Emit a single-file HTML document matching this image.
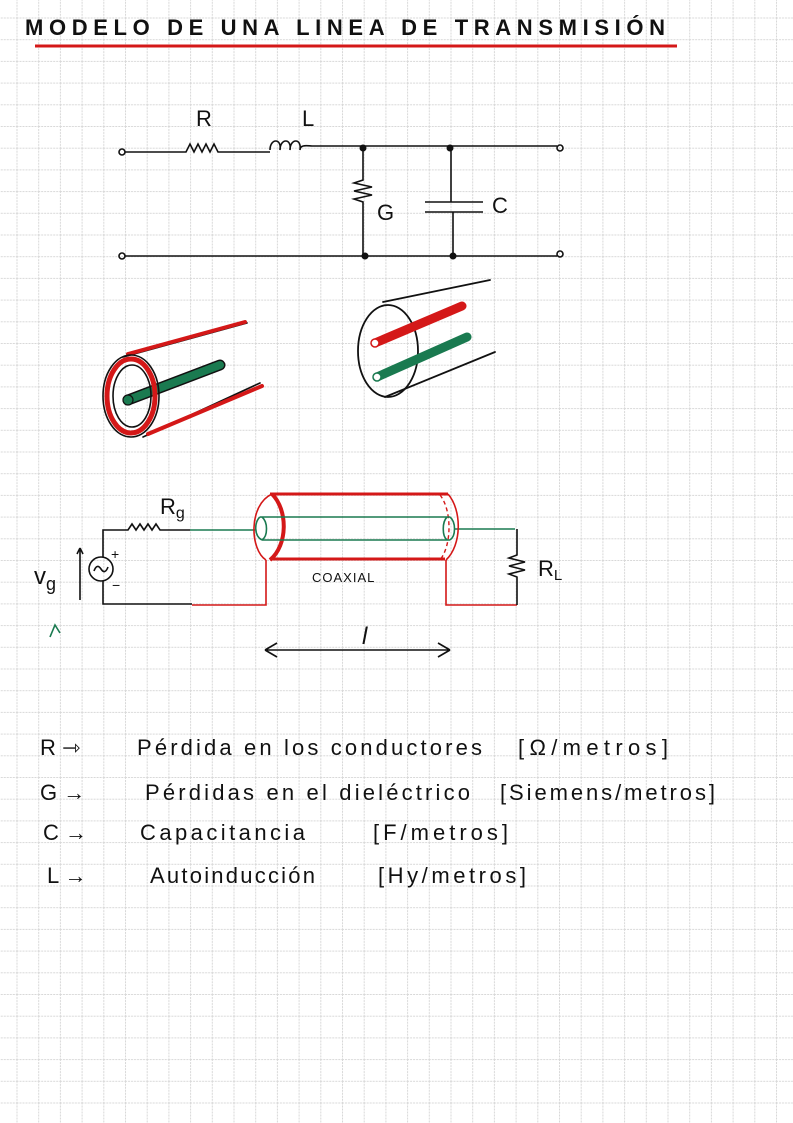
<!DOCTYPE html>
<html><head><meta charset="utf-8"><style>html,body{margin:0;padding:0;background:#fff}svg{display:block}</style></head><body>
<svg width="793" height="1123" viewBox="0 0 793 1123" xmlns="http://www.w3.org/2000/svg" font-family="Liberation Sans, sans-serif">
<defs>
<pattern id="g" x="16.5" y="17.5" width="21.7" height="21.7" patternUnits="userSpaceOnUse">
<path d="M0 0.5H21.7M0.5 0V21.7" stroke="#d8d8d8" stroke-width="1" stroke-dasharray="2 1" fill="none"/>
</pattern>
</defs>
<rect width="793" height="1123" fill="#fff"/>
<rect width="793" height="1123" fill="url(#g)"/>

<text x="25" y="35" font-size="22" font-weight="bold" fill="#111" textLength="640" lengthAdjust="spacing">MODELO DE UNA LINEA DE TRANSMISIÓN</text>
<line x1="35" y1="46" x2="677" y2="46" stroke="#d41818" stroke-width="3"/>

<g fill="none" stroke="#111" stroke-width="1.6">
<circle cx="122" cy="152" r="3"/><circle cx="560" cy="148" r="3"/>
<circle cx="122" cy="256" r="3"/><circle cx="560" cy="254" r="3"/>
<path d="M125 152H186 l4 -8 4 8 4 -8 4 8 4 -8 4 8 4 -8 4 8 H270"/>
<path d="M270 150 c0 -12 12 -12 10 0 c0 -12 12 -12 10 0 c0 -12 12 -12 10 0 c0 -6 8 -4 12 -4 H557"/>
<path d="M125 256H557"/>
<path d="M363 148V180 l-9 3 18 4 -18 4 18 4 -18 4 9 3 V256"/>
<path d="M451 148V202 M425 202H483 M425 212H483 M453 212V256"/>
</g>
<g fill="#111"><circle cx="363" cy="148" r="3.5"/><circle cx="450" cy="148" r="3.5"/><circle cx="365" cy="256" r="3.5"/><circle cx="453" cy="256" r="3.5"/></g>
<g font-size="22" fill="#111">
<text x="196" y="126">R</text><text x="302" y="126">L</text>
<text x="377" y="220">G</text><text x="492" y="213">C</text>
</g>

<g fill="none" stroke-linecap="round">
<path d="M123 357 L247 323 M143 437 L260 383" stroke="#111" stroke-width="1.6"/>
<path d="M128 354 L245 322 M148 434 L262 386" stroke="#d41818" stroke-width="4"/>
<path d="M128 400 L220 365" stroke="#111" stroke-width="11"/>
<path d="M128 400 L220 365" stroke="#1a7a50" stroke-width="8"/>
<circle cx="128" cy="400" r="5" fill="#1a7a50" stroke="#111" stroke-width="1.2"/>
<ellipse cx="131" cy="396" rx="28" ry="41" stroke="#111" stroke-width="1.6"/>
<ellipse cx="131" cy="396" rx="24" ry="37" stroke="#d41818" stroke-width="5"/>
<ellipse cx="132" cy="396" rx="19" ry="31" stroke="#111" stroke-width="1.6"/>
</g>
<g fill="none" stroke-linecap="round">
<ellipse cx="388" cy="351" rx="30" ry="46" stroke="#111" stroke-width="1.8"/>
<path d="M383 302 L490 280 M385 397 L495 352" stroke="#111" stroke-width="1.8"/>
<path d="M375 343 L462 306" stroke="#d41818" stroke-width="9"/>
<path d="M377 377 L467 337" stroke="#1a7a50" stroke-width="9"/>
<circle cx="375" cy="343" r="4" fill="#fff" stroke="#d41818" stroke-width="1.5"/>
<circle cx="377" cy="377" r="4" fill="#fff" stroke="#1a7a50" stroke-width="1.5"/>
</g>

<g fill="none" stroke-width="1.6">
<path d="M103 557 V530 H128 l4 -6 4 6 4 -6 4 6 4 -6 4 6 4 -6 4 6 H190" stroke="#111"/>
<circle cx="101" cy="569" r="12" stroke="#111"/>
<path d="M94 571 q3 -8 7 -2 q4 6 7 -2" stroke="#111"/>
<path d="M103 581 V604 H192" stroke="#111"/>
<path d="M192 605 H266 V560 M446 560 V605 H517" stroke="#d41818"/>
<path d="M190 530 H255 M455 529 H515" stroke="#1a7a50"/>
<path d="M517 529 V555 l-8 3 16 4 -16 4 16 4 -16 4 8 3 V605" stroke="#111"/>
<path d="M80 548 V600 M80 548 l-3 6 M80 548 l3 6" stroke="#111"/>
<path d="M270 494 H448 M270 559 H445" stroke="#d41818" stroke-width="3"/>
<path d="M272 494 C248 505 250 550 266 560 M448 494 C462 510 462 545 446 560" stroke="#d41818" stroke-width="1.6"/>
<path d="M272 494 C288 510 288 545 270 560" stroke="#d41818" stroke-width="4"/>
<path d="M440 495 C452 510 452 545 440 560" stroke="#d41818" stroke-width="1.4" stroke-dasharray="4 3"/>
<path d="M260 517 H450 M262 540 H450" stroke="#1a7a50"/>
<path d="M260 517 C254 522 254 536 262 540 M262 517 C268 522 268 536 262 540 M447 517 C442 522 442 536 447 540 M450 517 C456 522 456 536 450 540" stroke="#1a7a50"/>
<path d="M265 650 H450 M265 650 l12 -7 M265 650 l12 7 M450 650 l-12 -7 M450 650 l-12 7" stroke="#111"/>
<path d="M50 637 l5 -12 5 8" stroke="#1a7a50"/>
</g>
<g fill="#111">
<text x="160" y="514" font-size="22">R<tspan font-size="16" dy="4">g</tspan></text>
<text x="111" y="559" font-size="14">+</text><text x="112" y="590" font-size="14">−</text>
<text x="34" y="584" font-size="24">v<tspan font-size="18" dy="6">g</tspan></text>
<text x="312" y="582" font-size="13" letter-spacing="1">COAXIAL</text>
<text x="538" y="576" font-size="22">R<tspan font-size="15" dy="4">L</tspan></text>
<text x="362" y="644" font-size="24" font-style="italic">l</text>
</g>

<g font-size="22" fill="#111">
<text x="40" y="755">R ⇾</text><text x="137" y="755" textLength="345" lengthAdjust="spacing">Pérdida en los conductores</text><text x="518" y="755" textLength="150" lengthAdjust="spacing">[Ω/metros]</text>
<text x="40" y="800">G →</text><text x="145" y="800" textLength="325" lengthAdjust="spacing">Pérdidas en el dieléctrico</text><text x="500" y="800" textLength="215" lengthAdjust="spacing">[Siemens/metros]</text>
<text x="43" y="840">C →</text><text x="140" y="840" textLength="165" lengthAdjust="spacing">Capacitancia</text><text x="373" y="840" textLength="135" lengthAdjust="spacing">[F/metros]</text>
<text x="47" y="883">L →</text><text x="150" y="883" textLength="165" lengthAdjust="spacing">Autoinducción</text><text x="378" y="883" textLength="148" lengthAdjust="spacing">[Hy/metros]</text>
</g>
</svg>
</body></html>
